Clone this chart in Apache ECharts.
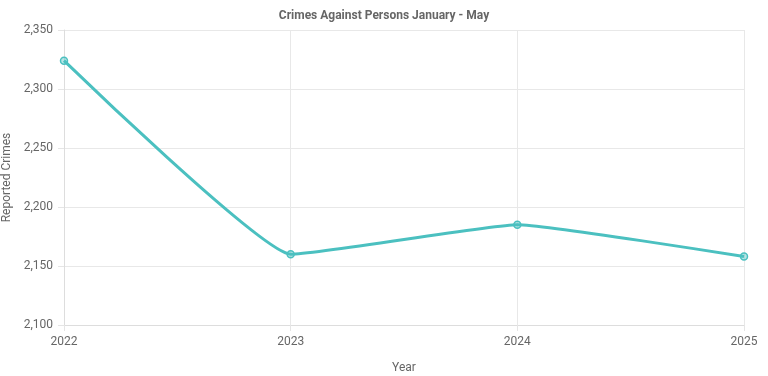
<!DOCTYPE html>
<html>
<head>
    <meta charset="utf-8">
    <script type="text/javascript" src="https://cdn.jsdelivr.net/npm/echarts@6/dist/echarts.min.js"></script>
    <title>Crimes Against Persons</title>
</head>
<body style="margin:0">
    <div id="container" style="width:768px;height:376px;"></div>
    <script type="text/javascript">
    // data
    var years = ['2022', '2023', '2024', '2025'];
    var crimes = [2324, 2160, 2185, 2158];

    var myChart = echarts.init(document.getElementById('container'));

    var gray = '#666';
    var font = 'Roboto, "Helvetica Neue", Arial, sans-serif';

    var option = {
        animation: false,
        textStyle: { fontFamily: font },
        title: {
            text: 'Crimes Against Persons January - May',
            left: 'center',
            top: 5,
            textStyle: { fontSize: 12, fontWeight: 'bold', color: gray, fontFamily: font }
        },
        grid: { left: 64, right: 24, top: 30, bottom: 51, outerBoundsMode: 'none', containLabel: false },
        xAxis: {
            type: 'category',
            data: years,
            boundaryGap: false,
            name: 'Year',
            nameLocation: 'middle',
            nameGap: 37,
            nameTextStyle: { color: gray, fontSize: 12 },
            axisLine: { lineStyle: { color: '#ddd' } },
            axisTick: { show: true, length: 6, lineStyle: { color: '#e5e5e5' } },
            axisLabel: { color: gray, fontSize: 12, margin: 11 },
            splitLine: { show: true, lineStyle: { color: '#e8e8e8' } }
        },
        yAxis: {
            type: 'value',
            min: 2100,
            max: 2350,
            interval: 50,
            name: 'Reported Crimes',
            nameLocation: 'middle',
            nameGap: 50,
            nameTextStyle: { color: gray, fontSize: 12 },
            axisLine: { show: true, lineStyle: { color: '#ddd' } },
            axisTick: { show: true, length: 6, lineStyle: { color: '#e5e5e5' } },
            axisLabel: { color: gray, fontSize: 12, margin: 11 },
            splitLine: { lineStyle: { color: '#e8e8e8' } }
        },
        series: [{
            type: 'line',
            data: crimes,
            smooth: 0.12,
            smoothMonotone: 'x',
            symbol: 'circle',
            symbolSize: 7,
            itemStyle: { color: 'rgba(75,192,192,0.4)', borderColor: 'rgb(75,192,192)', borderWidth: 1.5 },
            lineStyle: { color: 'rgb(75,192,192)', width: 3 }
        }]
    };

    myChart.setOption(option);
    </script>
</body>
</html>
